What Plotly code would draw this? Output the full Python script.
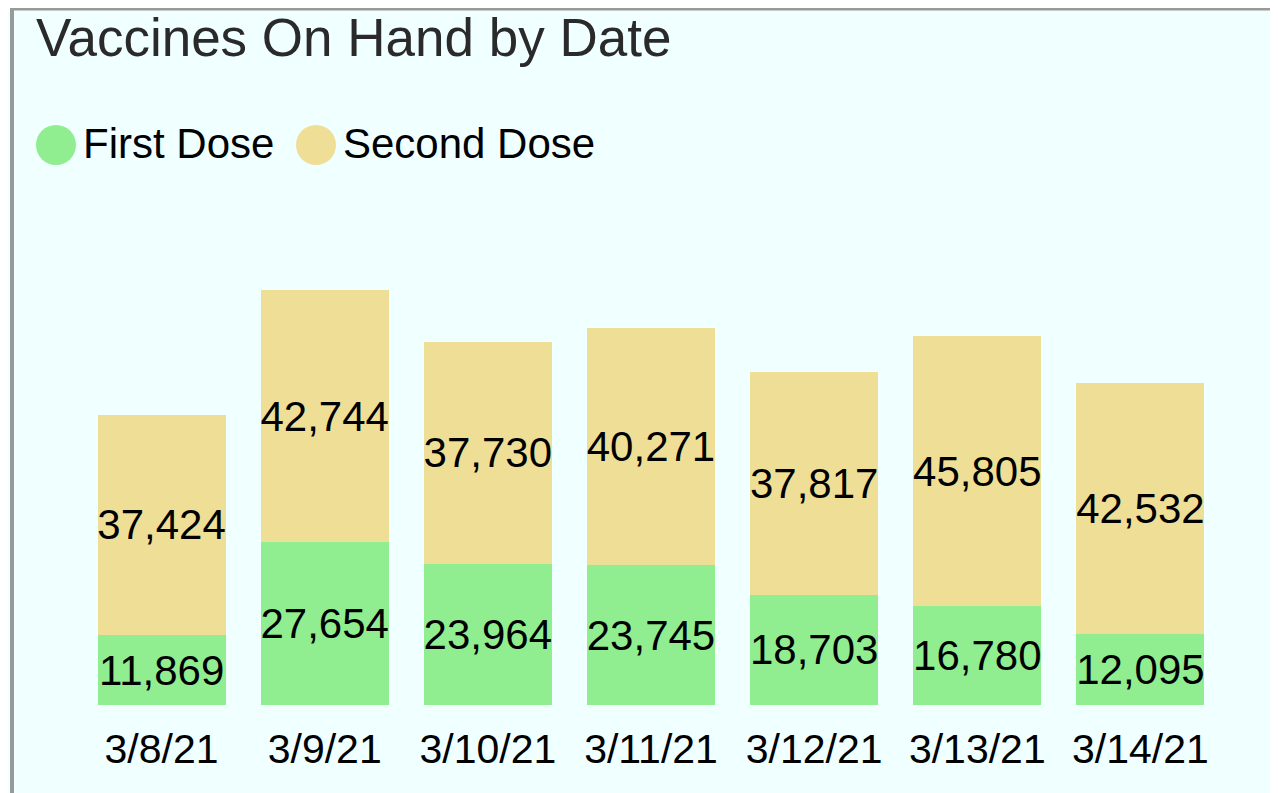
import plotly.graph_objects as go

dates = ['3/8/21', '3/9/21', '3/10/21', '3/11/21', '3/12/21', '3/13/21', '3/14/21']
first_dose = [11869, 27654, 23964, 23745, 18703, 16780, 12095]
second_dose = [37424, 42744, 37730, 40271, 37817, 45805, 42532]
series_names = ['First Dose', 'Second Dose']
series_colors = ['#90EE90', '#EFDF96']

FONT = 'Arial, Liberation Sans, sans-serif'
W, H = 1278, 793
# the page body adds an 8px offset, so everything here is in figure pixels
L, R, T, B = 72, 64, 261, 96
PW, PH = W - L - R, H - T - B


def px_x(px):
    return (px - L) / PW


def px_y(py):
    return (H - B - py) / PH


fig = go.Figure()

for name, vals, color in zip(series_names, [first_dose, second_dose], series_colors):
    fig.add_trace(go.Bar(
        x=dates,
        y=vals,
        name=name,
        marker=dict(color=color, line=dict(width=0)),
        text=[f'{v:,}' for v in vals],
        textposition='inside',
        insidetextanchor='middle',
        textangle=0,
        constraintext='none',
        textfont=dict(family=FONT, size=42, color='black'),
        showlegend=False
    ))

# custom legend with big circles
shapes = []
annotations = []
legend_pos = [(48, 73), (308, 333)]
for (cx, tx), name, color in zip(legend_pos, series_names, series_colors):
    shapes.append(dict(
        type='circle', xref='paper', yref='paper',
        x0=px_x(cx - 20), x1=px_x(cx + 20),
        y0=px_y(157), y1=px_y(117),
        fillcolor=color, line=dict(width=0)
    ))
    annotations.append(dict(
        text=name, xref='paper', yref='paper',
        x=px_x(tx), y=px_y(135), xanchor='left', yanchor='middle',
        showarrow=False, font=dict(family=FONT, size=42, color='black')
    ))

# panel border (top and left visible)
shapes.append(dict(type='line', xref='paper', yref='paper',
                   x0=px_x(4), x1=px_x(W + 10), y0=px_y(0.5), y1=px_y(0.5),
                   line=dict(color='#999999', width=4)))
shapes.append(dict(type='line', xref='paper', yref='paper',
                   x0=px_x(4), x1=px_x(4), y0=px_y(0), y1=px_y(H + 10),
                   line=dict(color='#999999', width=4)))

fig.update_layout(
    width=W,
    height=H,
    barmode='stack',
    bargap=0.215,
    title=dict(
        text='Vaccines On Hand by Date',
        x=28 / W, xanchor='left', xref='container',
        y=1 - 29 / H, yanchor='middle', yref='container',
        font=dict(family=FONT, size=53, color='#2a2a2a')
    ),
    paper_bgcolor='#F0FFFF',
    plot_bgcolor='#F0FFFF',
    margin=dict(l=L, r=R, t=T, b=B),
    xaxis=dict(
        showgrid=False, showline=False, zeroline=False, ticks='',
        ticklabelstandoff=16,
        tickfont=dict(family=FONT, size=41, color='black')
    ),
    yaxis=dict(
        range=[0, 74000], visible=False, showgrid=False, zeroline=False
    ),
    shapes=shapes,
    annotations=annotations,
    showlegend=False
)

fig.write_html('out.html')
